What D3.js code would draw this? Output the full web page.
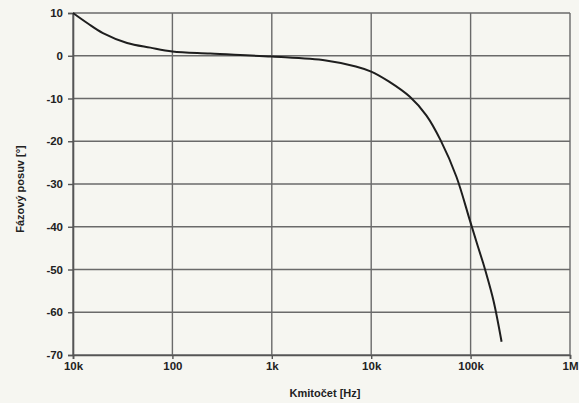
<!DOCTYPE html>
<html><head><meta charset="utf-8">
<script src="https://cdn.jsdelivr.net/npm/d3@7"></script>
<style>
html,body{margin:0;padding:0;background:#f6f6f1;}
svg{display:block;font-family:"Liberation Sans",Arial,sans-serif;}
</style></head>
<body><svg id="c" width="579" height="403"></svg>
<script>
const freq = [10, 14, 20, 35, 60, 100, 240, 1000, 3500, 7000, 10000, 15000, 24500, 36000, 50000, 72000, 98000, 118000, 133000, 141000, 170000, 205000];
const phase = [10, 7.6, 5.3, 3.0, 1.9, 1.0, 0.5, -0.2, -1.1, -2.5, -3.7, -6.0, -9.6, -14.0, -19.8, -28.3, -38.4, -44.5, -48.3, -50.3, -57.3, -66.9];
const xTicks = [10, 100, 1000, 10000, 100000, 1000000];
const xTickLabels = ["10k", "100", "1k", "10k", "100k", "1M"];
const yTicks = [10, 0, -10, -20, -30, -40, -50, -60, -70];

const svg = d3.select("#c");
const L = 73, R = 570, T = 13, B = 355;
const x = d3.scaleLog().domain([10, 1e6]).range([L, R]);
const y = d3.scaleLinear().domain([-70, 10]).range([B, T]);

// grid
svg.append("g").selectAll("line").data(yTicks).join("line")
  .attr("x1", L).attr("x2", R).attr("y1", d => y(d)).attr("y2", d => y(d))
  .attr("stroke", "#6a6a6a").attr("stroke-width", 1.4);
svg.append("g").selectAll("line").data(xTicks).join("line")
  .attr("x1", d => x(d)).attr("x2", d => x(d)).attr("y1", T).attr("y2", B)
  .attr("stroke", "#6a6a6a").attr("stroke-width", 1.4);

// axes
const yAxis = d3.axisLeft(y).tickValues(yTicks).tickFormat(d => String(d)).tickSize(5).tickPadding(4);
const gy = svg.append("g").attr("transform", `translate(${L},0)`).call(yAxis);
const xAxis = d3.axisBottom(x).tickValues(xTicks).tickFormat((d, i) => xTickLabels[i]).tickSize(4).tickPadding(3);
const gx = svg.append("g").attr("transform", `translate(0,${B})`).call(xAxis);
[gx, gy].forEach(g => {
  g.select(".domain").attr("stroke", "#555").attr("stroke-width", 1.6);
  g.selectAll(".tick line").attr("stroke", "#555").attr("stroke-width", 1.4);
  g.selectAll("text").attr("fill", "#222").attr("font-size", 11.5)
    .attr("font-family", "Liberation Sans, Arial, sans-serif").attr("font-weight", "bold");
});
gy.selectAll("text").attr("dx", "-1");

// curve
const line = d3.line().x((d, i) => x(freq[i])).y(d => y(d)).curve(d3.curveCatmullRom.alpha(0.5));
svg.append("path").datum(phase).attr("d", line)
  .attr("fill", "none").attr("stroke", "#1e1e1e").attr("stroke-width", 2);

// titles
svg.append("text").attr("x", 325).attr("y", 397).attr("text-anchor", "middle")
  .attr("font-size", 11).attr("fill", "#222").attr("font-weight", "bold").text("Kmitočet [Hz]");
svg.append("text").attr("transform", "translate(24,189) rotate(-90)").attr("text-anchor", "middle")
  .attr("font-size", 11).attr("fill", "#222").attr("font-weight", "bold").text("Fázový posuv [°]");
</script></body></html>
